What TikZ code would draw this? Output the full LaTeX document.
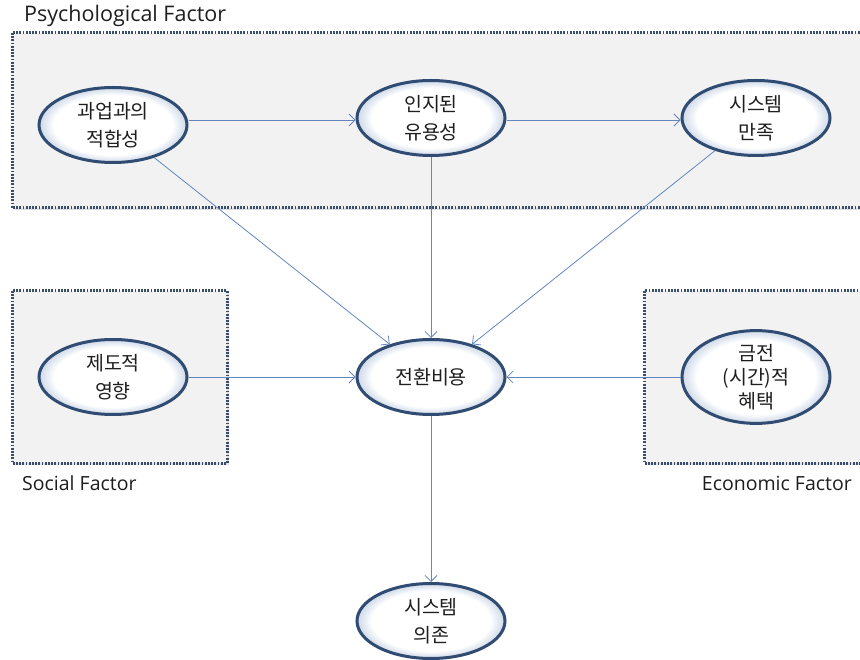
\documentclass[tikz,border=0pt]{standalone}
\usepackage{fontspec}
\setmainfont{Open Sans}
\newfontfamily\kofont{Noto Sans CJK KR}
\usetikzlibrary{shapes.geometric,arrows.meta,shadows}
\definecolor{boxfill}{RGB}{242,242,243}
\definecolor{boxline}{RGB}{58,78,108}
\definecolor{ellline}{RGB}{48,76,114}
\definecolor{glowc}{RGB}{205,216,232}
\definecolor{arrowc}{RGB}{100,134,190}
\definecolor{labc}{RGB}{30,30,30}
\pgfdeclareradialshading{ellglow}{\pgfpoint{0bp}{0bp}}{color(0bp)=(white); color(20bp)=(white); color(25bp)=(glowc); color(50bp)=(glowc)}
\tikzset{
  factorbox/.style={fill=boxfill, draw=boxline, line width=3pt, dash pattern=on 1.8pt off 1.4pt,
    drop shadow={shadow xshift=1.5pt, shadow yshift=-2pt, opacity=0.25}},
  concept/.style={ellipse, shading=ellglow, draw=ellline, line width=3pt, minimum width=148pt,
    minimum height=75pt, inner sep=0pt, align=center, text=labc,
    font=\kofont\fontsize{19.5}{28}\selectfont},
  flow/.style={draw=arrowc, line width=0.8pt, -{Straight Barb[length=6pt,width=12pt]}},
  factorlabel/.style={font=\fontsize{19.5}{22}\selectfont, text=labc, inner sep=0pt}
}
\begin{document}
\begin{tikzpicture}[x=1pt,y=-1pt]
\useasboundingbox[fill=white] (0,0) rectangle (860,660);
% boxes
\path[factorbox] (12,33) rectangle (872,208);
\path[factorbox] (12,291) rectangle (227,463);
\path[factorbox] (644,291) rectangle (872,463);
\node[factorlabel, anchor=west, font=\fontsize{21.5}{24}\selectfont] (lpsy) at (24,16) {Psychological Factor};
\node[factorlabel, anchor=west] (lsoc) at (22,483) {Social Factor};
\node[factorlabel, anchor=east] (leco) at (852,483) {Economic Factor};
% concepts
\node[concept] (fit) at (113,125) {과업과의\\적합성};
\node[concept] (use) at (431,118) {인지된\\유용성};
\node[concept] (sat) at (756,118) {시스템\\만족};
\node[concept] (inst) at (113,377) {제도적\\영향};
\node[concept] (cost) at (431,377) {전환비용};
\node[concept, font=\kofont\fontsize{19.5}{24}\selectfont] (ben) at (756,377) {금전\\(시간)적\\혜택};
\node[concept] (dep) at (431,621) {시스템\\의존};
% connectors
\draw[flow] (fit.east |- 0,120) -- (use.west |- 0,120);
\draw[flow] (use.east |- 0,120) -- (sat.west |- 0,120);
\draw[flow] (fit) -- (cost);
\draw[flow] (use) -- (cost);
\draw[flow] (sat) -- (cost);
\draw[flow] (inst) -- (cost);
\draw[flow] (ben) -- (cost);
\draw[flow] (cost) -- (dep);
\end{tikzpicture}
\end{document}
